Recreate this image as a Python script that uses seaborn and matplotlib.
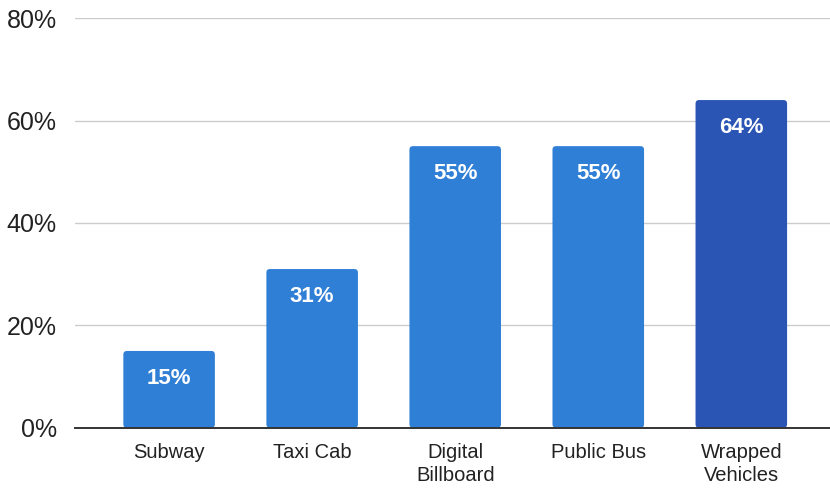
import matplotlib
matplotlib.use("Agg")
import matplotlib.pyplot as plt
from matplotlib.patches import FancyBboxPatch
import seaborn as sns
import pandas as pd

# data
categories = ["Subway", "Taxi Cab", "Digital\nBillboard", "Public Bus", "Wrapped\nVehicles"]
values = [15, 31, 55, 55, 64]
colors = ["#2f7fd6", "#2f7fd6", "#2f7fd6", "#2f7fd6", "#2a55b5"]
y_ticks = [0, 20, 40, 60, 80]

df = pd.DataFrame({"cat": categories, "val": values})

sns.set_theme(style="white")
plt.rcParams["font.family"] = ["Liberation Sans", "DejaVu Sans"]

fig = plt.figure(figsize=(8.3, 4.9), dpi=100)
ax = fig.add_axes([0.09, 0.127, 0.91, 0.836])

sns.barplot(data=df, x="cat", y="val", hue="cat", palette=colors,
            width=0.64, legend=False, saturation=1, ax=ax)

ax.set_ylim(0, 80)
ax.set_xlim(-0.66, 4.62)

# swap the plain bars for slightly rounded ones
for p in list(ax.patches):
    x0, y0 = p.get_x(), p.get_y()
    w, h = p.get_width(), p.get_height()
    fc = p.get_facecolor()
    p.remove()
    ax.add_patch(FancyBboxPatch((x0, y0), w, h,
                                boxstyle="round,pad=0,rounding_size=0.025",
                                mutation_aspect=28, facecolor=fc,
                                edgecolor="none", zorder=2))

# value labels inside the top of each bar
for i, v in enumerate(values):
    ax.text(i, v - 5.4, f"{v}%", ha="center", va="center", color="white",
            fontsize=16, fontweight="bold", zorder=3)

ax.set_yticks(y_ticks)
ax.set_yticklabels([f"{t}%" for t in y_ticks], fontsize=18, color="#222222")
ax.tick_params(axis="x", labelsize=14.5, colors="#222222", length=0, pad=11)
ax.tick_params(axis="y", length=0, pad=13)
for lbl in ax.get_xticklabels():
    lbl.set_linespacing(1.25)
ax.set_xlabel("")
ax.set_ylabel("")

ax.yaxis.grid(True, color="#cccccc", linewidth=1)
ax.set_axisbelow(True)
for s in ["top", "right", "left"]:
    ax.spines[s].set_visible(False)
ax.spines["bottom"].set_color("#333333")
ax.spines["bottom"].set_linewidth(1.4)
ax.spines["bottom"].set_zorder(4)

fig.savefig("out.png", dpi=100)
